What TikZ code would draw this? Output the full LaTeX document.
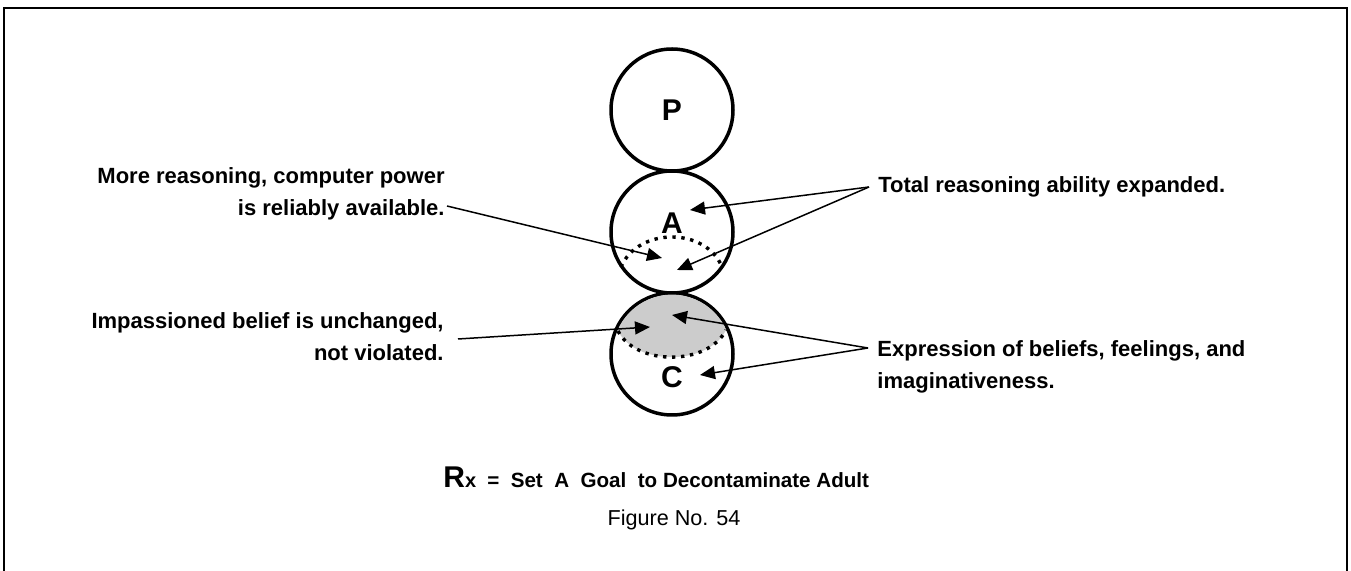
\documentclass[tikz,border=0pt]{standalone}
\usepackage{fontspec}
\setmainfont{Liberation Sans}
\usetikzlibrary{positioning, arrows.meta}

\begin{document}
\begin{tikzpicture}[
        x=0.5pt, y=-0.5pt,
        node distance=0pt,
        estado/.style={circle, draw=black, line width=1.75pt, minimum size=61pt, inner sep=0pt, outer sep=0pt},
        letra/.style={font=\fontsize{15}{18}\selectfont\bfseries, inner sep=0pt},
        nota/.style={font=\fontsize{11}{16}\selectfont\bfseries, inner sep=0pt},
        flecha/.style={-{Triangle[length=7.5pt, width=6.5pt]}, line width=0.75pt},
        puntos/.style={line width=1.7pt, dash pattern=on 1.7pt off 2.8pt}
    ]
    \useasboundingbox (0,0) rectangle (1351,571);

    % MARCO
    \draw[line width=1.2pt] (4,571) -- (4,8) -- (1347,8) -- (1347,571);

    % CIRCULOS P, A, C
    \node[estado] (circp) at (672,110) {};
    \node[estado, below=of circp] (circa) {};
    \node[estado, below=of circa] (circc) {};
    \node[letra] (letp) at (circp.center) {P};
    \node[letra] (leta) at ([yshift=4.5pt]circa.center) {A};
    \node[letra] (letc) at ([yshift=-11.5pt]circc.center) {C};

    % ZONA CONTAMINADA
    \begin{scope}
        \clip (circc.center) circle[radius=29.7pt];
        \fill[black!20] (600,320) -- (618,331) .. controls (636,366) and (708,366) .. (726,330) -- (745,320) -- (745,280) -- (600,280) -- cycle;
    \end{scope}
    \draw[puntos] (621,267) .. controls (638,227) and (706,227) .. (722,267);
    \draw[puntos] (618,331) .. controls (636,366) and (708,366) .. (726,330);

    % TEXTOS
    \node[nota, anchor=east, align=right] (nota1) at (445,194) {More reasoning, computer power\\is reliably available.};
    \node[nota, anchor=west, align=left] (nota2) at (878,187) {Total reasoning ability expanded.};
    \node[nota, anchor=east, align=right] (nota3) at (444,337) {Impassioned belief is unchanged,\\not violated.};
    \node[nota, anchor=west, align=left] (nota4) at (877,367) {Expression of beliefs, feelings, and\\imaginativeness.};

    \node[anchor=base west, inner sep=0pt] (receta) at (443,488) {{\fontsize{15}{18}\selectfont\bfseries R}{\fontsize{10}{12}\selectfont\bfseries x}\ \ {\fontsize{10.3}{12}\selectfont\bfseries =\ \ Set\ \ A\ \ Goal\ \ to Decontaminate Adult}};
    \node[font=\fontsize{10.8}{13}\selectfont, inner sep=0pt] (figura) at (674,520) {Figure No. 54};

    % PUNTAS
    \coordinate (pa1) at (690,210);
    \coordinate (pa2) at (677,270);
    \coordinate (pa3) at (662,258);
    \coordinate (pc1) at (650,327);
    \coordinate (pc2) at (672,315);
    \coordinate (pc3) at (700,375);

    % FLECHAS
    \draw[flecha] ([shift={(2,12)}]nota1.east) -- (pa3);
    \draw[flecha] ([shift={(-9,0)}]nota2.west) -- (pa1);
    \draw[flecha] ([shift={(-9,0)}]nota2.west) -- (pa2);
    \draw[flecha] ([shift={(14,2)}]nota3.east) -- (pc1);
    \draw[flecha] ([shift={(-9,-19)}]nota4.west) -- (pc2);
    \draw[flecha] ([shift={(-9,-19)}]nota4.west) -- (pc3);
\end{tikzpicture}
\end{document}
